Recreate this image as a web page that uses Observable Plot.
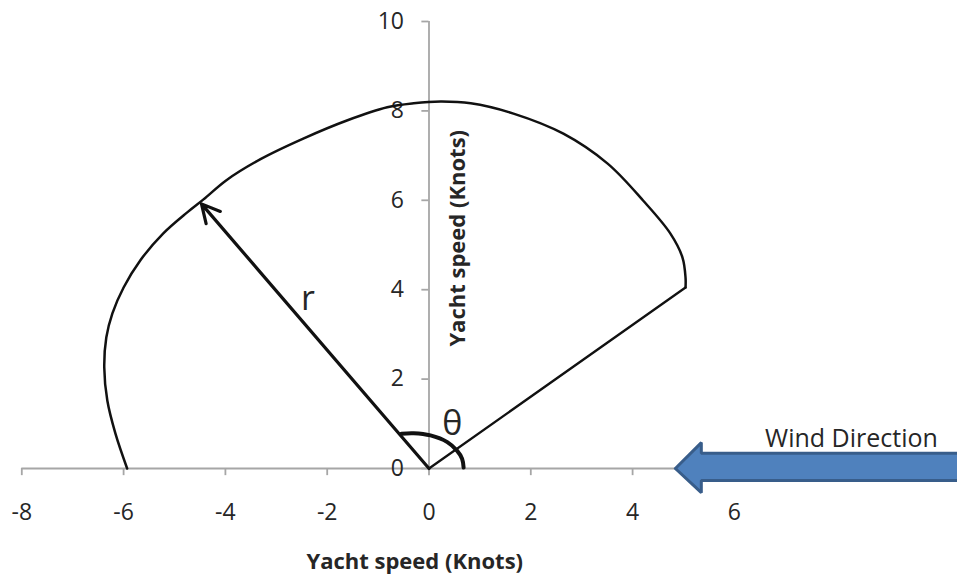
<!DOCTYPE html>
<html>
<head>
<meta charset="utf-8">
<script src="https://cdn.jsdelivr.net/npm/d3@7"></script>
<script src="https://cdn.jsdelivr.net/npm/@observablehq/plot@0.6"></script>
<style>
  html, body { margin: 0; padding: 0; background: #fff; overflow: hidden; }
  #chart svg { display: block; }
</style>
</head>
<body>
<div id="chart"></div>
<script>
// ---- data ----
// polar performance curve (x, y in knots)
const curveX = [-5.93, -6.16, -6.32, -6.38, -6.34, -6.22, -6.00, -5.67, -5.22, -4.75, -4.43, -3.98, -3.31, -2.47, -1.60, -0.82, -0.30, 0.23, 0.82, 1.66, 2.64, 3.51, 4.21, 4.74, 4.98, 5.04, 5.04];
const curveY = [0.00, 0.78, 1.52, 2.26, 2.93, 3.47, 4.05, 4.66, 5.26, 5.73, 6.02, 6.45, 6.92, 7.38, 7.79, 8.08, 8.17, 8.21, 8.17, 7.94, 7.49, 6.82, 5.99, 5.26, 4.72, 4.27, 4.05];
// closing leg back to origin
const closeX = [5.04, 0];
const closeY = [4.05, 0];
// radius arrow r
const rArrow = [{x1: 0, y1: 0, x2: -4.47, y2: 5.92}];
// theta arc
const arcX = [-0.54, -0.30, 0.03, 0.36, 0.55, 0.65, 0.68];
const arcY = [0.78, 0.79, 0.74, 0.59, 0.40, 0.22, 0.02];
// wind direction block arrow outline
const windX = [4.84, 5.35, 5.35, 10.8, 10.8, 5.35, 5.35, 4.84];
const windY = [0.00, 0.58, 0.34, 0.34, -0.27, -0.27, -0.54, 0.00];
// ticks
const xTicks = [-8, -6, -4, -2, 0, 2, 4, 6];
const yTicks = [0, 2, 4, 6, 8, 10];
// annotation labels
const labels = [
  {x: -2.38, y: 3.8, text: "r", size: 34, anchor: "middle"},
  {x: 0.46, y: 1.0, text: "θ", size: 34, anchor: "middle"},
  {x: 8.3, y: 0.47, text: "Wind Direction", size: 25, anchor: "bottom"}
];
const axisTitles = [
  {x: -0.28, y: -2.08, text: "Yacht speed (Knots)", rotate: 0},
  {x: 0.56, y: 5.15, text: "Yacht speed (Knots)", rotate: -90}
];

const curve = curveX.map((x, i) => ({x, y: curveY[i]}));
const closing = closeX.map((x, i) => ({x, y: closeY[i]}));
const arc = arcX.map((x, i) => ({x, y: arcY[i]}));
const wind = windX.map((x, i) => ({x, y: windY[i]}));
const fmt = d => String(d);
const axisColor = "#a6a6a6";

const chart = Plot.plot({
  width: 957,
  height: 577,
  style: {fontFamily: "'Open Sans', sans-serif", background: "#fff", color: "#262626"},
  x: {domain: [-8, 6], range: [21.3, 733.9], axis: null},
  y: {domain: [0, 10], range: [468, 21], axis: null},
  marks: [
    // axes
    Plot.ruleY([0], {x1: -8, x2: 10, stroke: axisColor, strokeWidth: 1.8}),
    Plot.ruleX([0], {y1: 0, y2: 10, stroke: axisColor, strokeWidth: 1.8}),
    Plot.ruleX(xTicks, {x: d => d, y1: 0, y2: -0.16, stroke: axisColor, strokeWidth: 1.8}),
    Plot.ruleY(yTicks, {y: d => d, x1: -0.14, x2: 0, stroke: axisColor, strokeWidth: 1.8}),
    Plot.text(xTicks, {x: d => d, y: 0, dy: 44, text: fmt, fontSize: 23, fill: "#262626", lineAnchor: "middle"}),
    Plot.text(yTicks, {x: 0, y: d => d, dx: -25, text: fmt, fontSize: 23, fill: "#262626", textAnchor: "end", lineAnchor: "middle"}),
    // polar curve
    Plot.line(curve, {x: "x", y: "y", curve: "catmull-rom", stroke: "#111", strokeWidth: 2.5}),
    Plot.line(closing, {x: "x", y: "y", stroke: "#111", strokeWidth: 2.3}),
    // r arrow
    Plot.arrow(rArrow, {x1: "x1", y1: "y1", x2: "x2", y2: "y2", stroke: "#111", strokeWidth: 3.2, headLength: 9.5, headAngle: 55}),
    // theta arc
    Plot.line(arc, {x: "x", y: "y", curve: "catmull-rom", stroke: "#111", strokeWidth: 4}),
    // wind arrow
    Plot.line(wind, {x: "x", y: "y", fill: "#4f81bd", stroke: "#385d8a", strokeWidth: 3, strokeLinejoin: "miter"}),
    // labels
    Plot.text(labels.filter(d => d.anchor === "middle"), {x: "x", y: "y", text: "text", fontSize: d => d.size, fill: "#262626", lineAnchor: "middle"}),
    Plot.text(labels.filter(d => d.anchor === "bottom"), {x: "x", y: "y", text: "text", fontSize: d => d.size, fill: "#262626", lineAnchor: "bottom"}),
    Plot.text(axisTitles, {x: "x", y: "y", text: "text", rotate: "rotate", fontSize: 22, fontWeight: "bold", fill: "#262626", lineAnchor: "middle"})
  ]
});
document.getElementById("chart").appendChild(chart);
</script>
</body>
</html>
